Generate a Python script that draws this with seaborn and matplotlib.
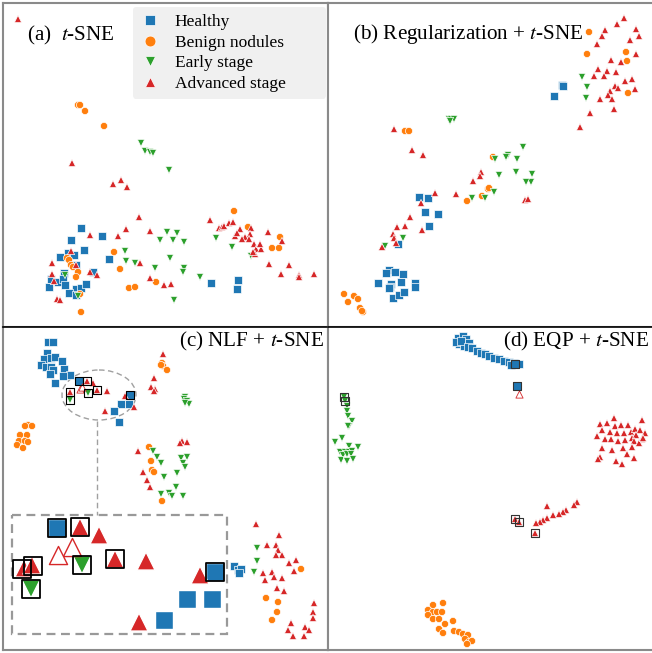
import matplotlib
matplotlib.use("Agg")
import matplotlib.pyplot as plt
import pandas as pd
import seaborn as sns
from matplotlib.patches import Ellipse, Rectangle

CLASSES = ["Healthy", "Benign nodules", "Early stage", "Advanced stage"]
COLORS = ["#1f77b4", "#ff7f0e", "#2ca02c", "#d62728"]
MARKERS = ["s", "o", "v", "^"]

# ---------------- panel (a) t-SNE ----------------
A_HEALTHY = [(81, 228), (102, 236), (71, 240), (84, 250), (68, 253), (74, 255), (60, 257),
             (109, 259), (76, 265), (93, 272), (64, 273), (51, 279), (58, 282), (63, 279),
             (65, 285), (49, 287), (76, 289), (81, 288), (86, 284), (69, 293), (76, 295),
             (211, 283), (238, 280), (237, 289)]
A_BENIGN = [(78, 105), (80, 105), (85, 111), (104, 126), (67, 258), (69, 260), (71, 265),
            (73, 267), (78, 272), (76, 277), (114, 252), (120, 269), (129, 288), (135, 287),
            (156, 282), (80, 294), (81, 312), (234, 211), (248, 227), (280, 237), (272, 248),
            (279, 248)]
A_EARLY = [(141, 143), (145, 151), (150, 152), (153, 153), (169, 170), (167, 232), (177, 233),
           (160, 240), (173, 240), (184, 242), (125, 251), (170, 258), (126, 261), (135, 263),
           (155, 268), (184, 268), (183, 272), (200, 277), (216, 238), (232, 247), (251, 256),
           (174, 300), (65, 275), (78, 296)]
A_ADVANCED = [(18, 19), (72, 163), (113, 184), (121, 180), (127, 187), (139, 217), (126, 229),
              (118, 236), (90, 235), (150, 231), (71, 251), (52, 263), (52, 274), (54, 281),
              (76, 265), (90, 272), (97, 275), (57, 299), (60, 300), (140, 263), (150, 278),
              (164, 285), (171, 284), (210, 220), (219, 228), (222, 227), (224, 226), (229, 223),
              (233, 222), (240, 229), (235, 236), (237, 233), (251, 228), (250, 234), (245, 237),
              (249, 239), (242, 239), (254, 244), (256, 249), (261, 249), (260, 244), (255, 254),
              (253, 252), (268, 232), (282, 241), (269, 264), (289, 265), (281, 274), (299, 275),
              (299, 277), (314, 274)]

# ---------------- panel (b) Regularization + t-SNE ----------------
B_HEALTHY = [(236, 85), (237, 86), (228, 96), (93, 197), (102, 198), (99, 212), (112, 214),
             (103, 226), (72, 244), (63, 270), (60, 273), (69, 272), (77, 274), (52, 283),
             (65, 284), (64, 287), (75, 282), (89, 283), (89, 287), (63, 288), (67, 298),
             (73, 295), (78, 292)]
B_BENIGN = [(263, 32), (261, 54), (300, 52), (301, 61), (302, 93), (79, 131), (83, 131),
            (167, 157), (162, 189), (163, 188), (156, 196), (141, 201), (18, 294), (28, 296),
            (32, 299), (22, 302), (34, 308), (37, 312), (36, 311)]
B_EARLY = [(123, 119), (125, 119), (128, 119), (124, 121), (256, 77), (261, 87), (260, 98),
           (197, 147), (182, 155), (180, 157), (169, 159), (191, 159), (173, 175), (190, 172),
           (206, 174), (205, 182), (200, 182), (168, 192), (159, 198), (146, 198), (77, 238),
           (59, 246)]
B_ADVANCED = [(298, 18), (291, 24), (279, 30), (276, 36), (271, 44), (310, 29), (313, 36),
              (304, 40), (310, 54), (285, 60), (295, 62), (272, 69), (281, 71), (290, 72),
              (268, 76), (278, 76), (299, 81), (306, 79), (289, 86), (292, 88), (284, 91),
              (309, 89), (282, 95), (274, 99), (286, 99), (288, 109), (264, 113), (254, 127),
              (68, 129), (86, 150), (97, 155), (155, 172), (154, 176), (147, 181), (109, 193),
              (130, 194), (95, 203), (199, 200), (202, 199), (84, 217), (71, 227), (79, 226),
              (96, 230), (67, 234), (68, 238), (70, 243), (56, 247)]

# ---------------- panel (c) NLF + t-SNE ----------------
C_HEALTHY = [(48, 16), (53, 16), (47, 27), (44, 33), (51, 32), (55, 31), (62, 35), (41, 39),
             (46, 41), (51, 41), (53, 44), (64, 43), (70, 49), (50, 48), (63, 50), (55, 57),
             (79, 55), (130, 69), (121, 78), (129, 78), (114, 85), (119, 96), (234, 240),
             (238, 244), (241, 243), (239, 247)]
C_BENIGN = [(162, 37), (163, 40), (167, 44), (161, 39), (28, 99), (25, 100), (32, 100),
            (20, 109), (27, 109), (19, 115), (25, 115), (28, 116), (17, 119), (23, 122),
            (149, 121), (151, 135), (152, 144), (154, 146), (162, 175), (301, 243), (266, 272),
            (278, 276), (277, 286), (272, 294)]
C_EARLY = [(185, 71), (184, 73), (187, 75), (189, 78), (185, 77), (70, 74), (88, 67),
           (153, 125), (157, 131), (161, 137), (181, 132), (187, 131), (183, 137), (185, 141),
           (164, 151), (177, 147), (176, 161), (161, 168), (169, 167), (172, 170), (183, 170),
           (257, 222), (257, 235), (254, 246)]
C_ADVANCED = [(163, 28), (154, 52), (151, 61), (155, 63), (154, 65), (87, 55), (93, 57),
              (70, 66), (97, 64), (107, 65), (125, 70), (134, 81), (105, 85), (182, 115),
              (180, 117), (187, 116), (138, 125), (143, 146), (147, 154), (150, 161), (256, 198),
              (279, 209), (267, 219), (276, 219), (278, 224), (282, 229), (276, 229), (296, 234),
              (289, 237), (263, 247), (272, 246), (294, 245), (274, 251), (282, 252), (265, 254),
              (277, 262), (284, 265), (314, 277), (313, 286), (313, 292), (291, 297), (288, 304),
              (305, 301), (309, 304), (293, 310), (304, 310)]
C_HOLLOW = [(80, 63), (82, 61)]
C_BOXED = [(79, 55), (87, 55), (70, 66), (70, 74), (88, 67), (97, 64), (130, 69)]
# magnified inset of the circled region
C_INSET_HEALTHY = [(57, 202), (215, 246), (187, 273), (212, 273), (164, 294)]
C_INSET_EARLY = [(82, 239), (31, 263)]
C_INSET_ADVANCED = [(80, 201), (99, 209), (24, 242), (32, 239), (115, 233), (146, 235),
                    (200, 249), (139, 296)]
C_INSET_HOLLOW = [(72, 221), (58, 229)]
C_INSET_BOXED = [(57, 202), (80, 201), (22, 243), (33, 240), (82, 239), (115, 233), (31, 263),
                 (215, 246)]

# ---------------- panel (d) EQP + t-SNE ----------------
D_HEALTHY = [(132, 12), (137, 10), (140, 13), (133, 18), (138, 20), (143, 17), (130, 16),
             (135, 15), (142, 21), (146, 22), (151, 25), (155, 27), (159, 28), (163, 30),
             (168, 32), (173, 33), (178, 35), (183, 36), (188, 37), (193, 38), (185, 39),
             (189, 38), (191, 60)]
D_BENIGN = [(107, 279), (117, 277), (102, 284), (107, 286), (111, 286), (116, 286), (102, 289),
            (107, 293), (113, 293), (119, 298), (127, 295), (113, 303), (117, 307), (128, 305),
            (133, 306), (137, 308), (142, 309), (139, 313), (143, 316), (146, 315), (141, 318)]
D_EARLY = [(18, 71), (19, 75), (21, 80), (21, 85), (22, 90), (26, 95), (23, 100), (22, 100),
           (9, 116), (16, 112), (32, 121), (23, 120), (14, 126), (19, 126), (23, 126), (26, 125),
           (17, 129), (21, 128), (25, 128), (15, 134), (21, 135), (27, 133)]
D_ADVANCED = [(288, 92), (274, 98), (281, 97), (289, 100), (295, 99), (302, 99), (316, 94),
              (276, 104), (284, 106), (291, 107), (298, 107), (305, 106), (309, 103), (314, 104),
              (319, 107), (271, 110), (279, 113), (285, 113), (292, 115), (299, 114), (306, 112),
              (310, 109), (316, 113), (308, 115), (313, 117), (317, 112), (276, 122), (286, 124),
              (297, 122), (306, 121), (301, 128), (274, 131), (272, 133), (290, 135), (296, 138),
              (308, 132), (251, 176), (248, 179), (240, 184), (237, 186), (233, 188), (227, 189),
              (221, 192), (221, 180), (217, 194), (214, 196), (210, 197), (209, 207), (189, 193),
              (193, 196)]
D_HOLLOW = [(193, 68)]
D_BOXED = [(18, 71), (19, 75), (189, 38), (191, 60), (189, 193), (193, 196), (209, 207)]

TITLES = ["(a)  $t$-SNE", "(b) Regularization + $t$-SNE", "(c) NLF + $t$-SNE", "(d) EQP + $t$-SNE"]

plt.rcParams["font.family"] = ["Liberation Serif", "DejaVu Serif"]
plt.rcParams["mathtext.fontset"] = "stix"

W, H = 652, 653
fig = plt.figure(figsize=(W / 100, H / 100), dpi=100)


def frame(x0, y0, x1, y1):
    return [x0 / W, 1 - y1 / H, (x1 - x0) / W, (y1 - y0) / H]


def make_df(groups):
    rows = []
    for cls, pts in zip(CLASSES, groups):
        for x, y in pts:
            rows.append({"x": x, "y": y, "cls": cls})
    return pd.DataFrame(rows)


def scatter(ax, groups, s, lw=0.5, legend=False):
    sns.scatterplot(data=make_df(groups), x="x", y="y", hue="cls", style="cls",
                    hue_order=CLASSES, style_order=CLASSES, palette=COLORS,
                    markers=MARKERS, s=s, edgecolor="white", linewidth=lw,
                    ax=ax, legend=legend, zorder=3)


def boxes(ax, pts, s, lw, color="black"):
    df = pd.DataFrame(pts, columns=["x", "y"])
    sns.scatterplot(data=df, x="x", y="y", marker="s", s=s, facecolor="none",
                    edgecolor=color, linewidth=lw, ax=ax, legend=False, zorder=4)


def hollow(ax, pts, s, lw):
    df = pd.DataFrame(pts, columns=["x", "y"])
    sns.scatterplot(data=df, x="x", y="y", marker="^", s=s, facecolor="white",
                    edgecolor=COLORS[3], linewidth=lw, ax=ax, legend=False, zorder=4)


def style_axes(ax, xlim, ylim, hide_right=False, top_black=False):
    ax.set_xlim(*xlim)
    ax.set_ylim(*ylim)
    ax.set_xticks([])
    ax.set_yticks([])
    ax.set_xlabel("")
    ax.set_ylabel("")
    for sp in ax.spines.values():
        sp.set_color("#8a8a8a")
        sp.set_linewidth(1.5)
    if hide_right:
        ax.spines["right"].set_visible(False)
    if top_black:
        ax.spines["top"].set_color("black")
        ax.spines["top"].set_linewidth(1.2)


SMALL = 27
TFS = 15.2

# (a)
ax_a = fig.add_axes(frame(3, 3, 328, 327))
scatter(ax_a, [A_HEALTHY, A_BENIGN, A_EARLY, A_ADVANCED], SMALL, legend=True)
style_axes(ax_a, (3, 328), (327, 3))
handles, labels = ax_a.get_legend_handles_labels()
leg = ax_a.legend(handles, labels, loc="upper left",
                  bbox_to_anchor=((133 - 3) / 325, 1 - 4 / 324, (326 - 133) / 325, 0.0),
                  mode="expand", borderaxespad=0.0, fontsize=12.5, frameon=True,
                  fancybox=True, facecolor="#f0f0f0", edgecolor="none", framealpha=1,
                  labelspacing=0.25, handlelength=1.2, handletextpad=0.8, borderpad=0.4,
                  markerscale=1.5)
ax_a.text(27, 35, TITLES[0], ha="left", va="center", fontsize=TFS, zorder=5)

# (b)
ax_b = fig.add_axes(frame(328, 3, 652, 327))
scatter(ax_b, [B_HEALTHY, B_BENIGN, B_EARLY, B_ADVANCED], SMALL)
style_axes(ax_b, (2, 326), (327, 3), hide_right=True)
ax_b.text(27, 34, TITLES[1], ha="left", va="center", fontsize=TFS, zorder=5)

# (c)
ax_c = fig.add_axes(frame(3, 327, 328, 650))
scatter(ax_c, [C_HEALTHY, C_BENIGN, C_EARLY, C_ADVANCED], SMALL)
hollow(ax_c, C_HOLLOW, SMALL, 0.6)
boxes(ax_c, C_BOXED, 36, 0.8)
scatter(ax_c, [C_INSET_HEALTHY, [], C_INSET_EARLY, C_INSET_ADVANCED], 170, lw=1.0)
hollow(ax_c, C_INSET_HOLLOW, 170, 1.0)
boxes(ax_c, C_INSET_BOXED, 150, 1.3)
ax_c.add_patch(Ellipse((99, 69), 74, 50, fill=False, edgecolor="#a0a0a0", lw=1.0,
                       linestyle=(0, (4, 2.5)), zorder=2))
ax_c.plot([97, 97], [95, 189], color="#a0a0a0", lw=1.0, linestyle=(0, (4, 2.5)), zorder=2)
ax_c.add_patch(Rectangle((12, 189), 215, 119, fill=False, edgecolor="#999999", lw=1.6,
                         linestyle=(0, (4, 2.5)), zorder=2))
style_axes(ax_c, (3, 328), (324, 1), top_black=True)
ax_c.text(324, 15, TITLES[2], ha="right", va="center", fontsize=TFS, zorder=5)

# (d)
ax_d = fig.add_axes(frame(328, 327, 652, 650))
scatter(ax_d, [D_HEALTHY, D_BENIGN, D_EARLY, D_ADVANCED], SMALL)
hollow(ax_d, D_HOLLOW, SMALL, 0.6)
boxes(ax_d, D_BOXED, 34, 0.8, color="#333333")
style_axes(ax_d, (2, 326), (324, 1), hide_right=True, top_black=True)
ax_d.text(323, 15, TITLES[3], ha="right", va="center", fontsize=TFS, zorder=5)

fig.savefig("out.png", dpi=100)
